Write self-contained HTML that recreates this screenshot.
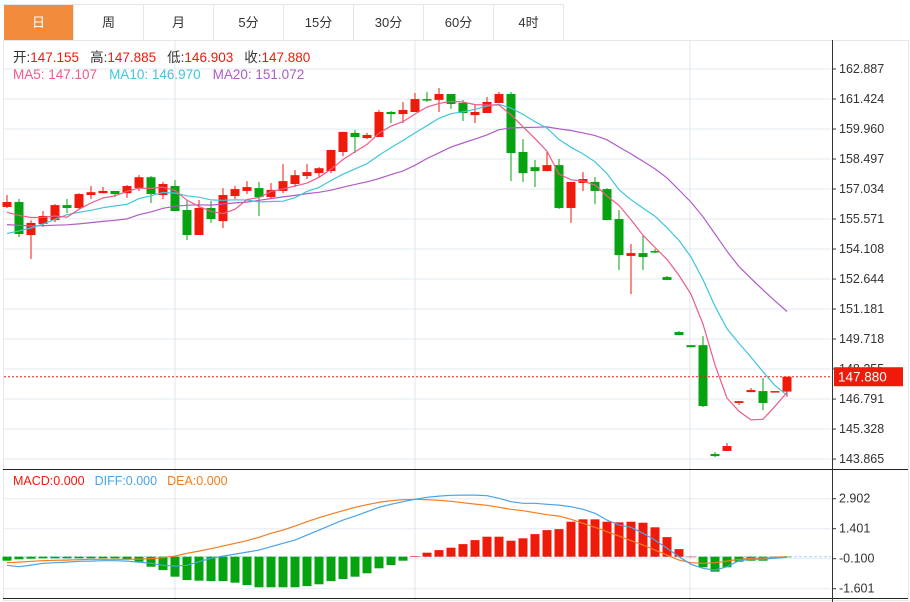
<!DOCTYPE html>
<html><head><meta charset="utf-8">
<style>
html,body{margin:0;padding:0;background:#fff;}
body{width:910px;height:602px;overflow:hidden;font-family:"Liberation Sans","Noto Sans CJK SC",sans-serif;}
#tabs{position:absolute;left:4px;top:4px;height:36px;display:flex;border-top:1px solid #e3e6ea;}
.tab{width:69px;height:36px;line-height:36px;text-align:center;font-size:13px;color:#333;border-right:1px solid #e3e6ea;}
.tab.on{background:#f28c3c;color:#fff;}
svg{position:absolute;left:0;top:0;}
</style></head><body>
<div id="tabs">
<div class="tab on">日</div>
<div class="tab">周</div>
<div class="tab">月</div>
<div class="tab">5分</div>
<div class="tab">15分</div>
<div class="tab">30分</div>
<div class="tab">60分</div>
<div class="tab">4时</div>
</div>
<svg id="chart" width="910" height="602"></svg>
<script>
const opens=[156.16,156.40,154.79,155.33,155.52,156.25,156.11,156.74,156.83,156.94,156.83,157.08,157.61,156.74,157.18,156.01,154.79,156.11,155.47,156.69,156.94,157.08,156.64,156.94,157.28,157.67,157.81,157.91,158.84,159.77,159.52,159.57,160.79,160.69,160.79,161.42,161.38,161.67,161.23,160.64,160.74,161.23,161.67,158.84,158.10,157.91,158.20,156.11,157.33,157.38,157.03,155.57,153.77,153.91,154.01,152.74,150.06,149.42,149.42,144.11,144.26,146.60,147.13,147.18,147.13,147.155];
const highs=[156.74,156.55,155.52,155.96,156.30,156.55,156.83,157.18,157.13,156.94,157.23,157.71,157.67,157.38,157.47,156.50,156.50,156.45,157.08,157.18,157.42,157.38,157.33,158.25,157.96,158.25,158.10,158.94,159.82,159.91,159.77,160.89,160.84,161.28,161.72,161.77,161.96,161.67,161.38,161.13,161.52,161.77,161.77,159.47,158.45,158.84,158.50,157.38,157.86,157.62,157.08,156.01,154.35,154.74,154.11,152.79,150.11,149.42,149.86,144.21,144.65,146.69,147.33,147.82,147.18,147.885];
const lows=[156.11,154.69,153.62,155.18,155.42,155.86,156.06,156.55,156.83,156.64,156.60,156.94,156.35,156.55,155.96,154.55,154.79,155.38,155.13,156.55,156.79,155.72,156.55,156.83,157.13,157.52,157.62,157.81,158.64,158.79,159.47,159.57,160.25,160.25,160.79,161.28,160.79,160.94,160.35,160.25,160.74,161.23,157.42,157.38,157.13,157.91,156.06,155.38,156.94,156.30,155.52,153.08,151.91,153.08,153.91,152.60,149.91,149.32,146.40,143.96,144.26,146.50,147.13,146.25,147.13,146.903];
const closes=[156.40,154.84,155.38,155.72,156.25,156.11,156.79,156.88,156.94,156.79,157.18,157.61,156.79,157.28,155.96,154.79,156.11,155.57,156.74,157.03,157.13,156.64,156.99,157.42,157.71,157.86,158.05,158.94,159.82,159.57,159.67,160.79,160.69,160.89,161.42,161.38,161.67,161.18,160.74,160.79,161.28,161.67,158.79,157.81,157.91,158.20,156.11,157.38,157.52,156.94,155.52,153.81,153.91,153.72,153.96,152.60,149.91,149.32,146.45,144.01,144.50,146.69,147.23,146.60,147.18,147.880];
const priorCloses=[155.6,155.9,155.5,155.8,155.7,155.9,155.6,155.8,155.7,155.8,153.6,154.0,153.8,153.9,153.9,155.6,155.9,155.7,155.9];
const macdHist=[-0.20,-0.13,-0.10,-0.08,-0.08,-0.08,-0.08,-0.08,-0.08,-0.08,-0.13,-0.25,-0.50,-0.67,-1.00,-1.17,-1.20,-1.22,-1.22,-1.30,-1.42,-1.53,-1.53,-1.53,-1.53,-1.47,-1.38,-1.22,-1.12,-1.00,-0.83,-0.58,-0.42,-0.20,0.03,0.20,0.33,0.45,0.63,0.83,1.00,1.00,0.80,0.92,1.13,1.33,1.38,1.75,1.87,1.87,1.75,1.72,1.75,1.70,1.47,0.98,0.38,0.0,-0.53,-0.75,-0.53,-0.25,-0.20,-0.20,-0.08,-0.03];
const diffLine=[-0.43,-0.50,-0.42,-0.33,-0.30,-0.27,-0.23,-0.22,-0.20,-0.20,-0.22,-0.27,-0.33,-0.43,-0.47,-0.43,-0.25,-0.08,0.03,0.13,0.23,0.33,0.50,0.67,0.83,1.08,1.33,1.58,1.83,2.03,2.25,2.47,2.62,2.75,2.87,2.97,3.03,3.07,3.08,3.08,3.05,2.92,2.75,2.67,2.67,2.62,2.58,2.50,2.37,2.17,1.83,1.58,1.47,1.17,0.83,0.42,0.00,-0.38,-0.58,-0.67,-0.50,-0.20,-0.13,-0.13,-0.07,-0.03];
const deaLine=[-0.30,-0.27,-0.23,-0.20,-0.18,-0.17,-0.15,-0.13,-0.13,-0.13,-0.13,-0.12,-0.10,-0.05,0.03,0.17,0.28,0.40,0.53,0.67,0.80,0.97,1.17,1.33,1.53,1.75,1.95,2.13,2.30,2.47,2.60,2.72,2.80,2.85,2.87,2.85,2.82,2.77,2.70,2.63,2.57,2.47,2.37,2.30,2.20,2.10,2.03,1.87,1.67,1.47,1.25,1.03,0.80,0.58,0.33,0.08,-0.17,-0.30,-0.33,-0.30,-0.22,-0.13,-0.08,-0.07,-0.03,0];
const priceTicks=[162.887,161.424,159.960,158.497,157.034,155.571,154.108,152.644,151.181,149.718,148.255,146.791,145.328,143.865];
const macdTicks=[2.902,1.401,-0.100,-1.601];

const NS="http://www.w3.org/2000/svg";
const svg=document.getElementById('chart');
function mk(tag,attrs,parent){const e=document.createElementNS(NS,tag);for(const k in attrs)e.setAttribute(k,attrs[k]);(parent||svg).appendChild(e);return e;}
const PX0=162.887,PY0=69,PPU=30/1.463;
function py(v){return PY0+(PX0-v)*PPU;}
function xi(i){return 7+12*i;}
const MZ=556.7,MPU=30/1.501;
function my(v){return MZ-v*MPU;}

const grid=mk('g',{});


mk('rect',{x:3.5,y:40.5,width:905,height:560,fill:'none',stroke:'#e3e6ea'},grid);
priceTicks.forEach(t=>{mk('line',{x1:4,x2:831,y1:py(t),y2:py(t),stroke:'#e6ebf0'},grid);});
macdTicks.forEach(t=>{mk('line',{x1:4,x2:831,y1:my(t),y2:my(t),stroke:'#e6ebf0'},grid);});
[175,415,690].forEach(x=>{mk('line',{x1:x,x2:x,y1:40,y2:600,stroke:'#e0e6ee'},grid);});
mk('line',{x1:4,x2:831,y1:MZ,y2:MZ,stroke:'#a8d8ee','stroke-dasharray':'3,2'},grid);
mk('line',{x1:3,x2:908,y1:469.5,y2:469.5,stroke:'#222'},grid);
mk('line',{x1:3,x2:908,y1:598.5,y2:598.5,stroke:'#222'},grid);
mk('line',{x1:832.5,x2:832.5,y1:40,y2:602,stroke:'#333'},grid);

const ax=mk('g',{'font-size':'12.5','fill':'#333'});


priceTicks.forEach(t=>{mk('line',{x1:832,x2:836,y1:py(t),y2:py(t),stroke:'#333'},ax);const tx=mk('text',{x:839,y:py(t)+4},ax);tx.textContent=t.toFixed(3);});
const ax2=mk('g',{'font-size':'12.5','fill':'#333'});


macdTicks.forEach(t=>{mk('line',{x1:832,x2:836,y1:my(t),y2:my(t),stroke:'#333'},ax2);const tx=mk('text',{x:839,y:my(t)+4},ax2);tx.textContent=(t<0?'':' ')+t.toFixed(3);});

const cg=mk('g',{});


for(let i=0;i<closes.length;i++){
  const up=closes[i]>=opens[i];const col=up?'#f01a0a':'#05a30f';
  const x=xi(i);
  mk('line',{x1:x,x2:x,y1:py(highs[i]),y2:py(lows[i]),stroke:col,'stroke-width':1},cg);
  const t=Math.min(py(opens[i]),py(closes[i]));const h=Math.max(1.5,Math.abs(py(opens[i])-py(closes[i])));
  const r=mk('rect',{x:x-4.5,y:t,width:9,height:h,fill:col},cg);
  
  
}
const all=priorCloses.concat(closes);
function ma(n){const out=[];for(let i=0;i<closes.length;i++){const j=i+priorCloses.length;let s=0;for(let k=j-n+1;k<=j;k++)s+=all[k];out.push(s/n);}return out;}
function poly(vals,f,col,name){const p=vals.map((v,i)=>xi(i)+','+f(v).toFixed(1)).join(' ');const e=mk('polyline',{points:p,fill:'none',stroke:col,'stroke-width':1.2});return e;}
poly(ma(20),py,'#b05cc8','ma20-line');
poly(ma(10),py,'#3fc6dc','ma10-line');
poly(ma(5),py,'#ee5b8a','ma5-line');

const lp=closes[closes.length-1];
const ll=mk('line',{x1:4,x2:832,y1:py(lp),y2:py(lp),stroke:'#f01a0a','stroke-dasharray':'2,2'});


const lb=mk('rect',{x:834,y:py(lp)-9.5,width:69,height:19,fill:'#f01a0a'});


const lt=mk('text',{x:838,y:py(lp)+5,fill:'#fff','font-size':'13.5'});lt.textContent=lp.toFixed(3);

const mg=mk('g',{});


macdHist.forEach((v,i)=>{const y1=my(v);const r=mk('rect',{x:xi(i)-4.5,y:Math.min(y1,MZ),width:9,height:Math.max(0.5,Math.abs(y1-MZ)),fill:v>=0?'#f01a0a':'#05a30f'},mg);
 
 });
poly(deaLine,my,'#f57c1f','dea-line');
poly(diffLine,my,'#4aa3e8','diff-line');

function txt(parts,y,name,fs){const t=mk('text',{x:13,y:y,'font-size':fs});
 parts.forEach(p=>{const s=mk('tspan',{fill:p[1]},t);if(p[2])s.setAttribute('dx',p[2]);s.textContent=p[0];});}
txt([['开:','#333'],['147.155','#f01a0a'],['高:','#333','11'],['147.885','#f01a0a'],['低:','#333','11'],['146.903','#f01a0a'],['收:','#333','11'],['147.880','#f01a0a']],62,'ohlc-legend','13.5');
txt([['MA5: 147.107','#ee5b8a'],['MA10: 146.970','#3fc6dc','12'],['MA20: 151.072','#b05cc8','12']],79,'ma-legend','13.5');
txt([['MACD:0.000','#f01a0a'],['DIFF:0.000','#4aa3e8','10'],['DEA:0.000','#f57c1f','10']],485,'macd-legend','12.5');
</script>
</body></html>
